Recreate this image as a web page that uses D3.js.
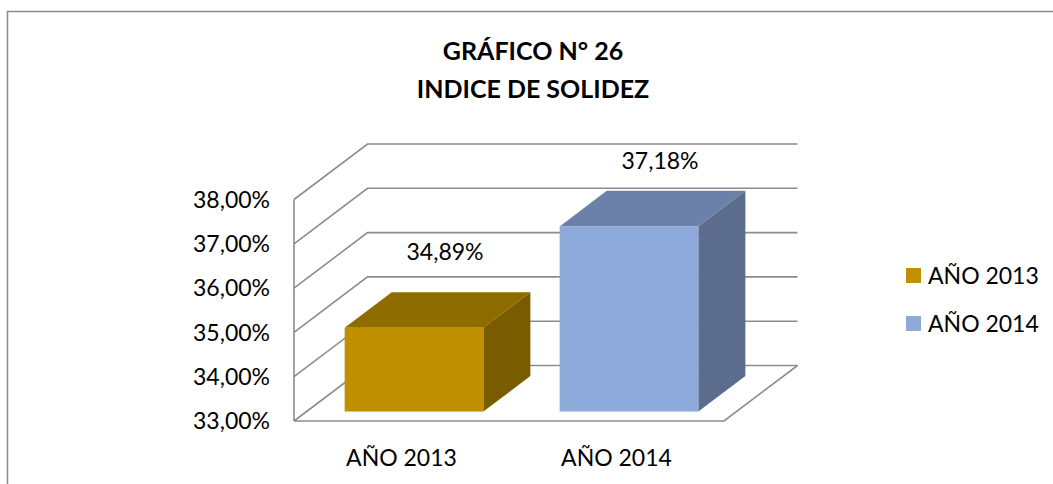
<!DOCTYPE html>
<html>
<head>
<meta charset="utf-8">
<script src="https://cdnjs.cloudflare.com/ajax/libs/d3/7.8.5/d3.min.js"></script>
<style>
  html, body { margin: 0; padding: 0; background: #fff; }
  svg { display: block; }
  text { font-family: Lato, "Open Sans", sans-serif; fill: #000; }
</style>
</head>
<body>
<div id="chart"></div>
<script>
// chart data
var categories = ['AÑO 2013', 'AÑO 2014'];
var values = [34.89, 37.18];
var valueLabels = ['34,89%', '37,18%'];
var yTicks = [33, 34, 35, 36, 37, 38];
var yTickLabels = ['33,00%', '34,00%', '35,00%', '36,00%', '37,00%', '38,00%'];
var titleLines = ['GRÁFICO N° 26', 'INDICE DE SOLIDEZ'];

var colors = [
  { front: '#c09000', top: '#8f6c00', side: '#7a5c00' },
  { front: '#8eaadb', top: '#6c81aa', side: '#5c6c8d' }
];

var W = 1053, H = 484;
var svg = d3.select('#chart').append('svg')
  .attr('width', W).attr('height', H);

// outer chart frame (runs off the right and bottom)
svg.append('rect')
  .attr('x', 7.5).attr('y', 11.5)
  .attr('width', 1100).attr('height', 500)
  .attr('fill', 'none').attr('stroke', '#8a8a8a').attr('stroke-width', 1.5);

// title
svg.selectAll('text.title')
  .data(titleLines).enter()
  .append('text')
  .attr('class', 'title')
  .attr('x', 533)
  .attr('y', function (d, i) { return 60 + i * 38; })
  .attr('text-anchor', 'middle')
  .style('font-weight', 'bold')
  .style('font-size', '25px')
  .text(function (d) { return d; });

// 3d setup: front plane and depth vector
var depthX = 73.5, depthY = -55.5;
var x = d3.scaleBand().domain(categories).range([294, 724]).padding(0);
var y = d3.scaleLinear().domain([33, 38]).range([421, 199.5]);
var barFrac = 0.645;
var t0 = 0.17, t1 = 0.81; // bar depth from/to

var grid = '#8c8c8c';
var g = svg.append('g');

// back wall + side wall gridlines
yTicks.forEach(function (v) {
  var yy = y(v);
  g.append('path')
    .attr('d', 'M' + x.range()[0] + ',' + yy +
      'L' + (x.range()[0] + depthX) + ',' + (yy + depthY) +
      'L' + (x.range()[1] + depthX) + ',' + (yy + depthY))
    .attr('fill', 'none').attr('stroke', grid).attr('stroke-width', 1.6);
});
// floor front edge and right edge
g.append('path')
  .attr('d', 'M' + x.range()[0] + ',' + y(33) +
    'L' + x.range()[1] + ',' + y(33) +
    'L' + (x.range()[1] + depthX) + ',' + (y(33) + depthY))
  .attr('fill', 'none').attr('stroke', grid).attr('stroke-width', 1.6);
// front vertical axis
g.append('line')
  .attr('x1', x.range()[0]).attr('x2', x.range()[0])
  .attr('y1', y(38)).attr('y2', y(33))
  .attr('stroke', grid).attr('stroke-width', 1.6);

// y tick labels
svg.selectAll('text.ytick')
  .data(yTicks).enter()
  .append('text')
  .attr('class', 'ytick')
  .attr('x', 270)
  .attr('y', function (d) { return y(d); })
  .attr('dy', '0.36em')
  .attr('text-anchor', 'end')
  .style('font-size', '23px')
  .text(function (d, i) { return yTickLabels[i]; });

// bars
function pt(px, py) { return px + ',' + py; }
categories.forEach(function (c, i) {
  var bw = x.bandwidth() * barFrac;
  var xl = x(c) + (x.bandwidth() - bw) / 2 + depthX * t0;
  var xr = xl + bw;
  var yb = y(33) + depthY * t0;
  var yt = y(values[i]) + depthY * t0;
  var ddx = depthX * (t1 - t0), ddy = depthY * (t1 - t0);
  var col = colors[i];
  // top face
  g.append('polygon')
    .attr('points', [pt(xl, yt), pt(xr, yt), pt(xr + ddx, yt + ddy), pt(xl + ddx, yt + ddy)].join(' '))
    .attr('fill', col.top);
  // side face
  g.append('polygon')
    .attr('points', [pt(xr, yt), pt(xr + ddx, yt + ddy), pt(xr + ddx, yb + ddy), pt(xr, yb)].join(' '))
    .attr('fill', col.side);
  // front face
  g.append('rect')
    .attr('x', xl).attr('y', yt)
    .attr('width', bw).attr('height', yb - yt)
    .attr('fill', col.front);

  // value label, kept below the top of the back wall
  var ly = Math.max(yt + ddy - 32, y(38) + depthY + 25);
  svg.append('text')
    .attr('x', xl + bw / 2 + 31)
    .attr('y', ly)
    .attr('text-anchor', 'middle')
    .style('font-size', '23px')
    .text(valueLabels[i]);
});

// category labels
svg.selectAll('text.cat')
  .data(categories).enter()
  .append('text')
  .attr('class', 'cat')
  .attr('x', function (d) { return x(d) + x.bandwidth() / 2; })
  .attr('y', 466)
  .attr('text-anchor', 'middle')
  .style('font-size', '23px')
  .text(function (d) { return d; });

// legend
var legend = svg.selectAll('g.legend')
  .data(categories).enter()
  .append('g')
  .attr('class', 'legend')
  .attr('transform', function (d, i) { return 'translate(906,' + (268 + i * 48) + ')'; });
legend.append('rect')
  .attr('width', 15).attr('height', 15)
  .attr('fill', function (d, i) { return colors[i].front; });
legend.append('text')
  .attr('x', 22).attr('y', 15.5)
  .style('font-size', '23px')
  .text(function (d) { return d; });
</script>
</body>
</html>
